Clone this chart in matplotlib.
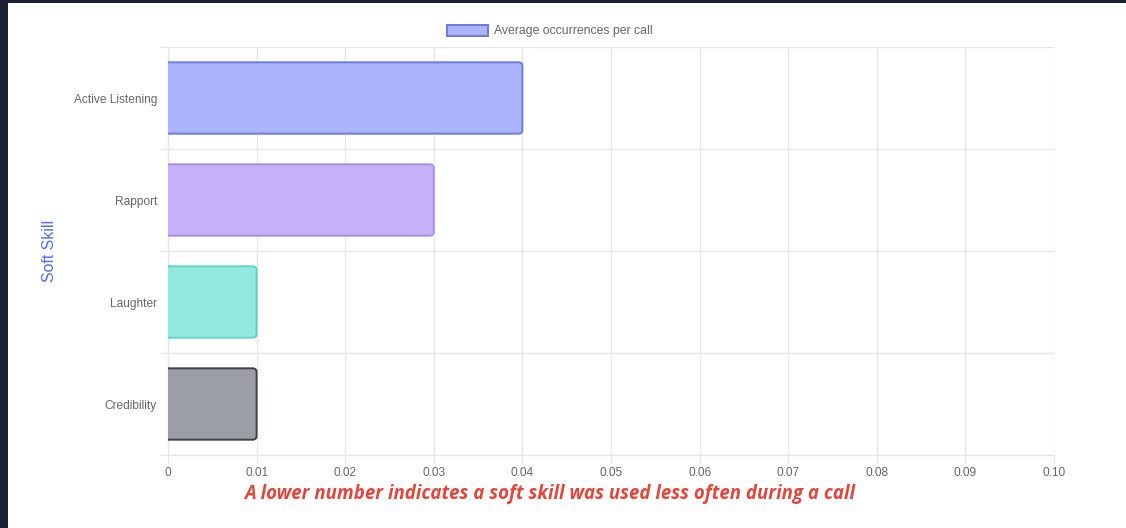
import numpy as np
import matplotlib.pyplot as plt
from matplotlib.patches import Rectangle, Patch, PathPatch
from matplotlib.path import Path

# ── data ────────────────────────────────────────────────────────────────────
skills = ["Active Listening", "Rapport", "Laughter", "Credibility"]
avg_per_call = [0.04, 0.03, 0.01, 0.01]
x_ticks = [0, 0.01, 0.02, 0.03, 0.04, 0.05, 0.06, 0.07, 0.08, 0.09, 0.10]
x_tick_labels = ["0", "0.01", "0.02", "0.03", "0.04", "0.05", "0.06",
                 "0.07", "0.08", "0.09", "0.10"]

fill_colors = ["#abb4fd", "#c5b1f9", "#93ebdf", "#9b9ea4"]
edge_colors = ["#6c78e6", "#a98df0", "#5fd3c2", "#3f4249"]
GRID = "#e6e6e6"
SANS = ["Liberation Sans", "DejaVu Sans"]

W, H = 1126, 528
fig = plt.figure(figsize=(W / 100, H / 100), dpi=100)
fig.patch.set_facecolor("#1b2233")
card = Rectangle((8 / W, 0), 1 - 8 / W, 1 - 3 / H, transform=fig.transFigure,
                 facecolor="white", edgecolor="none", zorder=-10)
fig.patches.append(card)

ax = fig.add_axes([168 / W, 1 - 455 / H, (1054 - 168) / W, (455 - 47) / H])
ax.set_zorder(1)
ax.set_facecolor("white")

pos = np.arange(len(skills))
bars = ax.barh(pos, avg_per_call, height=0.7, color="none")

# bars with rounded right corners and no border on the left (base) side
x_per_px = 0.1 / (1054 - 168)
y_per_px = 4.0 / (455 - 47)
rx, ry = 4 * x_per_px, 4 * y_per_px


def right_rounded(x0, y0, x1, y1, closed):
    verts = [(x0, y0), (x1 - rx, y0), (x1, y0), (x1, y0 + ry),
             (x1, y1 - ry), (x1, y1), (x1 - rx, y1), (x0, y1)]
    codes = [Path.MOVETO, Path.LINETO, Path.CURVE3, Path.CURVE3,
             Path.LINETO, Path.CURVE3, Path.CURVE3, Path.LINETO]
    if closed:
        verts.append((x0, y0))
        codes.append(Path.CLOSEPOLY)
    return Path(verts, codes)


for b, fc, ec in zip(bars, fill_colors, edge_colors):
    x0, y0 = b.get_x(), b.get_y()
    x1, y1 = x0 + b.get_width(), y0 + b.get_height()
    ax.add_patch(PathPatch(right_rounded(x0, y0, x1, y1, True),
                           facecolor=fc, edgecolor="none", zorder=3))
    ax.add_patch(PathPatch(right_rounded(x0, y0, x1, y1, False),
                           facecolor="none", edgecolor=ec, linewidth=1.4,
                           zorder=4, capstyle="butt"))
    b.remove()

ax.set_xlim(0, 0.1)
ax.set_ylim(3.5, -0.5)

ax.set_xticks(x_ticks)
ax.set_xticklabels(x_tick_labels, family=SANS)
ax.set_yticks(pos)
ax.set_yticklabels(skills, family=SANS)
ax.set_yticks(np.arange(-0.5, len(skills), 1.0), minor=True)

ax.grid(axis="x", which="major", color=GRID, linewidth=1, zorder=0)
ax.grid(axis="y", which="minor", color=GRID, linewidth=1, zorder=0)
ax.set_axisbelow(True)

ax.tick_params(axis="x", which="major", length=6, width=1, color=GRID,
               pad=3, labelsize=8.6, labelcolor="#666666")
ax.tick_params(axis="y", which="major", length=0, pad=8,
               labelsize=8.6, labelcolor="#666666")
ax.tick_params(axis="y", which="minor", length=6, width=1, color=GRID)

for s in ["top", "right"]:
    ax.spines[s].set_visible(False)
for s in ["left", "bottom"]:
    ax.spines[s].set_color(GRID)
    ax.spines[s].set_linewidth(1)

ax.set_ylabel("Soft Skill", color="#5569f0", fontsize=11.4, family=SANS)
ax.yaxis.set_label_coords((57 - 168) / (1054 - 168), 0.5)

handle = Patch(facecolor=fill_colors[0], edgecolor=edge_colors[0], linewidth=1.4)
fig.legend([handle], ["Average occurrences per call"], loc="center",
           bbox_to_anchor=(550 / W, 1 - 31 / H), frameon=False,
           prop={"family": SANS, "size": 8.8},
           handlelength=3.35, handleheight=1.05, handletextpad=0.45,
           labelcolor="#666666")

fig.text(550 / W, 1 - 494 / H,
         "A lower number indicates a soft skill was used less often during a call",
         ha="center", va="center", color="#e0463a", fontsize=13.4,
         fontweight="bold", fontstyle="italic",
         family=["Open Sans", "DejaVu Sans"])

fig.savefig("out.png", dpi=100)
